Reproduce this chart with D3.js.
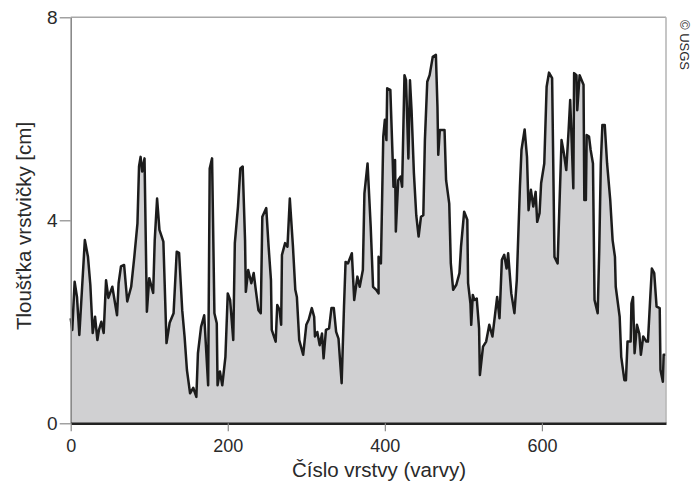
<!DOCTYPE html>
<html>
<head>
<meta charset="utf-8">
<script src="https://cdn.jsdelivr.net/npm/d3@7"></script>
<style>
    body { margin: 0; background: #fff; }
    svg { display: block; font-family: "Liberation Sans", Arial, sans-serif; }
</style>
</head>
<body>
<svg id="chart"></svg>
<script>
"use strict";

const width = 691;
const height = 486;

// varve number (x) and layer thickness in cm (y)
const varve = [
    0, 2, 5, 8, 11, 18, 22, 25, 28, 31, 34, 36, 39, 42, 45, 48, 53, 59, 61, 64,
    68, 72, 77, 81, 85, 87, 89, 91, 94, 97, 100, 105, 107, 110, 113, 118, 122, 126, 131, 135,
    138, 142, 145, 148, 152, 156, 160, 162, 166, 170, 175, 177, 180, 183, 186, 187, 190, 193, 197, 200,
    203, 207, 209, 213, 216, 219, 222, 223, 226, 230, 233, 236, 239, 242, 244, 249, 252, 255, 256, 261,
    263, 266, 268, 269, 273, 276, 279, 283, 286, 288, 291, 296, 300, 303, 307, 310, 311, 314, 317, 320,
    322, 325, 329, 332, 335, 338, 341, 345, 348, 350, 353, 358, 361, 365, 368, 372, 374, 378, 382, 385,
    389, 392, 392, 395, 398, 400, 402, 403, 407, 410, 411, 413, 414, 417, 420, 422, 425, 427, 430, 432,
    434, 437, 440, 443, 446, 449, 451, 454, 457, 461, 465, 467, 468, 470, 476, 478, 482, 484, 487, 491,
    495, 497, 501, 505, 506, 509, 510, 512, 514, 517, 520, 521, 525, 529, 533, 537, 540, 543, 546, 549,
    552, 555, 557, 561, 565, 568, 572, 574, 578, 581, 583, 586, 589, 592, 594, 597, 599, 603, 606, 609,
    613, 616, 620, 622, 625, 628, 631, 634, 636, 638, 640, 641, 644, 645, 648, 653, 654, 656, 657, 660,
    662, 665, 667, 671, 673, 675, 677, 680, 683, 687, 690, 693, 694, 699, 701, 705, 707, 709, 713, 714,
    716, 718, 721, 724, 726, 729, 733, 735, 738, 740, 743, 746, 750, 751, 754, 755, 758
];

const thickness = [
    2.07, 1.84, 2.79, 2.49, 1.74, 3.61, 3.28, 2.73, 1.78, 2.10, 1.64, 1.84, 2.00, 1.78, 2.82, 2.47, 2.69, 2.13, 2.76, 3.09,
    3.12, 2.40, 2.69, 3.28, 3.94, 5.06, 5.25, 4.96, 5.22, 2.20, 2.86, 2.57, 3.61, 4.43, 3.81, 3.58, 1.58, 1.98, 2.17, 3.38,
    3.36, 2.23, 1.71, 1.05, 0.59, 0.70, 0.52, 1.38, 1.90, 2.13, 0.75, 5.02, 5.22, 2.17, 1.97, 0.75, 1.02, 0.75, 1.31, 2.56,
    2.43, 1.64, 3.55, 4.27, 5.02, 5.06, 3.61, 2.59, 3.02, 2.76, 2.96, 2.59, 2.23, 2.17, 4.07, 4.24, 3.48, 2.82, 1.84, 1.61,
    2.33, 2.23, 1.94, 3.32, 3.55, 3.48, 4.43, 3.48, 2.63, 2.49, 1.64, 1.35, 1.94, 2.04, 2.27, 2.10, 1.71, 1.80, 1.54, 1.77,
    1.28, 1.84, 1.87, 2.27, 2.27, 1.80, 1.67, 0.79, 2.30, 3.18, 3.15, 3.35, 2.43, 2.89, 2.69, 3.02, 4.53, 5.12, 3.87, 2.69,
    2.63, 2.56, 3.28, 3.15, 5.65, 5.98, 5.58, 6.60, 6.57, 5.19, 4.66, 5.19, 3.78, 4.79, 4.86, 4.66, 6.86, 6.76, 5.22, 6.76,
    6.17, 4.93, 4.10, 3.68, 4.07, 4.10, 5.58, 6.73, 6.86, 7.22, 7.26, 6.24, 5.29, 5.78, 5.78, 4.79, 4.33, 3.15, 2.63, 2.73,
    2.96, 3.48, 4.17, 4.01, 2.76, 2.36, 1.94, 2.53, 2.43, 2.46, 1.87, 0.95, 1.51, 1.61, 1.94, 1.71, 2.10, 2.49, 2.07, 3.22,
    3.32, 3.05, 3.35, 2.56, 2.17, 2.82, 4.66, 5.39, 5.79, 5.25, 4.20, 4.60, 4.27, 4.56, 3.97, 4.14, 4.73, 5.12, 6.63, 6.91,
    6.80, 3.28, 3.15, 4.14, 5.58, 5.32, 4.99, 5.78, 6.37, 5.52, 4.63, 6.90, 6.86, 6.17, 6.86, 6.67, 4.40, 4.40, 5.68, 5.65,
    5.39, 5.12, 2.43, 2.17, 3.41, 5.12, 5.88, 5.88, 5.12, 4.40, 3.61, 3.28, 2.69, 2.10, 1.31, 0.85, 0.85, 1.61, 1.61, 2.36,
    2.49, 1.38, 1.94, 1.77, 1.35, 1.71, 1.61, 1.61, 2.49, 3.05, 2.96, 2.30, 2.27, 1.05, 0.82, 1.35, 1.35
];

const xTicks = [0, 200, 400, 600];
const yTicks = [0, 4, 8];

const xTitle = "Číslo vrstvy (varvy)";
const yTitle = "Tloušťka vrstvičky [cm]";
const credit = "© USGS";

const data = varve.map((v, i) => ({ x: v, y: thickness[i] }));

const plotLeft = 70.7, plotRight = 666, plotTop = 17.3, plotBottom = 423.3;

const x_scale = d3.scaleLinear().domain([0, 758]).range([plotLeft, plotRight]);
const y_scale = d3.scaleLinear().domain([0, 8]).range([plotBottom, plotTop]);

const svg = d3.select("#chart")
    .attr("width", width)
    .attr("height", height);

// filled area + outline
const area = d3.area()
    .x(d => x_scale(d.x))
    .y0(y_scale(0))
    .y1(d => y_scale(d.y));

const line = d3.line()
    .x(d => x_scale(d.x))
    .y(d => y_scale(d.y));

svg.append("path")
    .datum(data)
    .attr("d", area)
    .attr("fill", "#d0d0d2");

svg.append("path")
    .datum(data)
    .attr("d", line)
    .attr("fill", "none")
    .attr("stroke", "#1c1c1c")
    .attr("stroke-width", 2.5)
    .attr("stroke-linejoin", "round");

// frame: top and right edges
svg.append("line")
    .attr("x1", plotLeft).attr("x2", plotRight)
    .attr("y1", plotTop).attr("y2", plotTop)
    .attr("stroke", "#a8a8a8").attr("stroke-width", 1.6);
svg.append("line")
    .attr("x1", plotRight).attr("x2", plotRight)
    .attr("y1", plotTop).attr("y2", plotBottom)
    .attr("stroke", "#b8b8b8").attr("stroke-width", 1.6);

// y axis
const axis_y = svg.append("g")
    .attr("transform", `translate(${plotLeft}, 0)`)
    .call(d3.axisLeft(y_scale).tickValues(yTicks).tickSize(11).tickSizeOuter(0).tickPadding(2));
axis_y.select(".domain").attr("stroke", "#8a8a8a").attr("stroke-width", 1.6);
axis_y.selectAll(".tick line").attr("stroke", "#8a8a8a").attr("stroke-width", 1.2);
axis_y.selectAll(".tick text")
    .attr("font-size", 19)
    .attr("fill", "#2a2a2a")
    .attr("font-family", "Liberation Sans, Arial, sans-serif");

// x axis
const axis_x = svg.append("g")
    .attr("transform", `translate(0, ${plotBottom})`)
    .call(d3.axisBottom(x_scale).tickValues(xTicks).tickSize(8).tickSizeOuter(0).tickPadding(8));
axis_x.select(".domain").attr("stroke", "#222").attr("stroke-width", 2.6);
axis_x.selectAll(".tick line").attr("stroke", "#8a8a8a").attr("stroke-width", 1.2);
axis_x.selectAll(".tick text")
    .attr("font-size", 18)
    .attr("fill", "#2a2a2a")
    .attr("font-family", "Liberation Sans, Arial, sans-serif");

// titles
svg.append("text")
    .attr("x", 379)
    .attr("y", 477)
    .attr("text-anchor", "middle")
    .attr("font-size", 20.5)
    .attr("fill", "#2a2a2a")
    .text(xTitle);

svg.append("text")
    .attr("transform", "translate(31, 226) rotate(-90)")
    .attr("text-anchor", "middle")
    .attr("font-size", 20.5)
    .attr("fill", "#2a2a2a")
    .text(yTitle);

svg.append("text")
    .attr("transform", "translate(680, 20) rotate(90)")
    .attr("text-anchor", "start")
    .attr("font-size", 13)
    .attr("fill", "#2a2a2a")
    .text(credit);
</script>
</body>
</html>
